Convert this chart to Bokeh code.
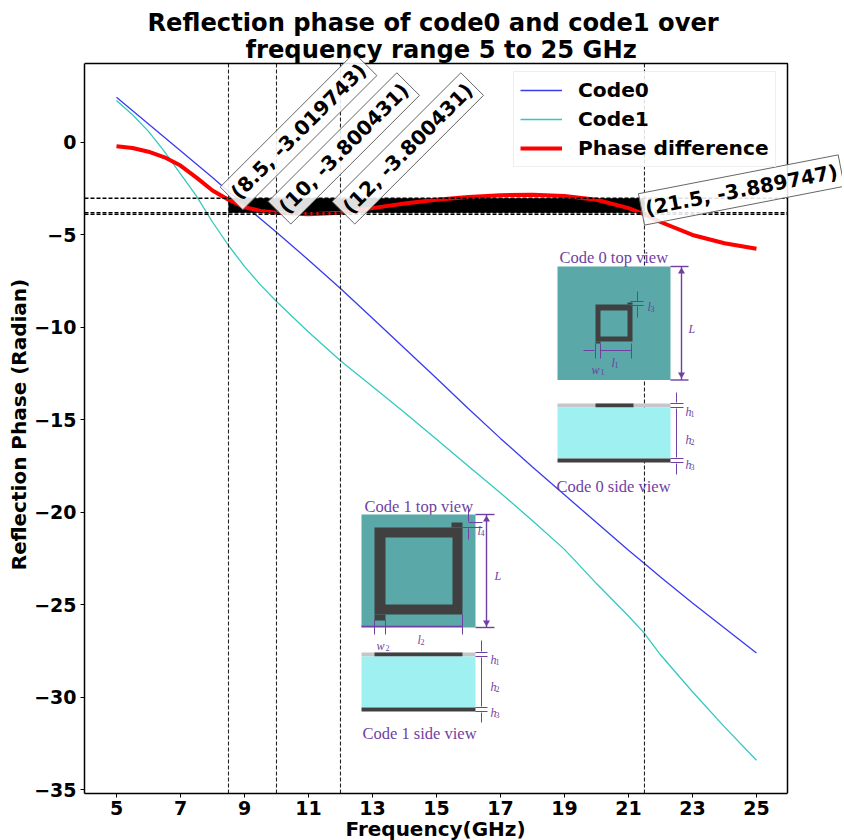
from bokeh.plotting import figure
from bokeh.embed import file_html
from bokeh.resources import INLINE
from bokeh.models import Label, Legend, LegendItem, FixedTicker, Range1d, Title
from bokeh.core.properties import value

# ---------- data ----------
freq0 = [5, 6, 7, 8, 8.5, 9, 10, 11, 12, 13, 14, 15, 16, 17, 18, 19, 20, 21, 21.5, 22, 23, 24, 25]
code0 = [2.45, 1.0, -0.45, -1.9, -2.65, -3.4, -4.86, -6.35, -7.9, -9.5, -11.13, -12.75, -14.4, -16.0,
         -17.55, -19.05, -20.55, -22.05, -22.76, -23.5, -24.9, -26.25, -27.6]
freq1 = [5, 5.5, 6, 6.5, 7, 7.5, 8, 8.5, 9, 9.5, 10, 11, 12, 13, 14, 15, 16, 17, 18, 19, 20, 21, 21.5, 22, 23, 24, 25]
code1 = [2.27, 1.5, 0.6, -0.5, -1.7, -2.9, -4.3, -5.57, -6.7, -7.7, -8.6, -10.25, -11.8, -13.2, -14.6, -16.05,
         -17.5, -18.95, -20.45, -22.0, -23.85, -25.6, -26.54, -27.7, -29.7, -31.6, -33.4]
freq_d = [5, 5.5, 6, 6.5, 7, 7.5, 8, 8.5, 9, 9.5, 10, 11, 12, 13, 14, 15, 16, 17, 18, 19, 20, 21, 21.5, 22, 23, 24, 25]
diff = [-0.2, -0.3, -0.5, -0.8, -1.25, -1.9, -2.6, -3.1, -3.5, -3.7, -3.8, -3.88, -3.8, -3.55, -3.3, -3.1,
        -2.95, -2.85, -2.82, -2.9, -3.1, -3.55, -3.89, -4.3, -5.0, -5.45, -5.75]
marker_x = [8.5, 10, 12, 21.5]
marker_y = [-3.019743, -3.800431, -3.800431, -3.889747]
marker_angle = [45, 45, 45, 11]
marker_text = ["(8.5, -3.019743)", "(10, -3.800431)", "(12, -3.800431)", "(21.5, -3.889747)"]
x_ticks = [5, 7, 9, 11, 13, 15, 17, 19, 21, 23, 25]
y_ticks = [0, -5, -10, -15, -20, -25, -30, -35]
series_names = ["Code0", "Code1", "Phase difference"]
title_lines = ["Reflection phase of code0 and code1 over", "frequency range 5 to 25 GHz"]
x_label = "Frequency(GHz)"
y_label = "Reflection Phase (Radian)"

FONT = "DejaVu Sans"
SERIF = "Liberation Serif"
PURPLE = "#6f3fa3"
TEAL = "#5aa8a8"
DARK = "#404040"
CYAN = "#9ff0f0"
GREY = "#c4c6cc"

X0, X1, Y0, Y1 = 4.0, 25.97, -35.2, 4.27


# page pixels of the axes box -> data values
def dx(px):
    return X0 + (px - 84) * (X1 - X0) / 703


def dy(py):
    return Y1 - (py - 63) * (Y1 - Y0) / 730


# the frame reaches past the drawn axes box so that the call-outs are not cut at its edge
p = figure(frame_width=758, frame_height=738, output_backend="svg", toolbar_location=None,
           x_range=Range1d(X0, dx(842)), y_range=Range1d(Y0, dy(55)),
           min_border_left=0, min_border_right=0, min_border_top=0, min_border_bottom=0,
           y_axis_label=y_label, title=None)
p.background_fill_color = "white"
p.border_fill_color = "white"
p.grid.visible = False
p.outline_line_color = None
p.margin = (1, 0, 0, 4)

offsets = [63, 161]
standoffs = [10, -16]
for line, off, so in reversed(list(zip(title_lines, offsets, standoffs))):
    p.add_layout(Title(text=line, align="left", offset=off, standoff=so, text_font=FONT,
                       text_font_style="bold", text_font_size="24.2px", text_color="black",
                       text_line_height=1.0), "above")
# x label sits under the drawn box (the frame itself runs further right)
p.add_layout(Title(text=x_label, align="left", offset=261, standoff=-6, text_font=FONT,
                   text_font_style="bold", text_font_size="20px", text_color="black",
                   text_line_height=1.0), "below")
# blank strip so that the canvas does not cut the descenders of the x label
p.add_layout(Title(text=" ", standoff=6, text_font_size="1px"), "below")

for ax in (p.xaxis[0], p.yaxis[0]):
    ax.axis_line_color = "black"
    ax.axis_line_width = 1.5
    ax.major_tick_in = 0
    ax.major_tick_out = 4
    ax.minor_tick_line_color = None
    ax.major_tick_line_color = "black"
    ax.major_label_text_font = FONT
    ax.major_label_text_font_style = "bold"
    ax.major_label_text_font_size = "19px"
    ax.major_label_text_color = "black"
    ax.axis_label_text_font = FONT
    ax.axis_label_text_font_style = "bold"
    ax.axis_label_text_font_size = "20px"
    ax.axis_label_text_color = "black"
p.xaxis[0].ticker = FixedTicker(ticks=x_ticks)
p.yaxis[0].ticker = FixedTicker(ticks=y_ticks)
p.xaxis[0].bounds = (X0, X1)
p.yaxis[0].bounds = (Y0, Y1)
p.yaxis[0].major_label_overrides = {t: str(t).replace("-", "\u2212") for t in y_ticks}
p.yaxis[0].major_label_orientation = "horizontal"
p.xaxis[0].major_label_standoff = 3
p.yaxis[0].major_label_standoff = 4
p.yaxis[0].axis_label_standoff = 0

# ---------- curves, band, reference lines ----------
r0 = p.line(freq0, code0, line_color="#3a3aee", line_width=1.3)
r1 = p.line(freq1, code1, line_color="#33c9c2", line_width=1.3)
p.varea(x=[marker_x[0], marker_x[-1]], y1=[marker_y[0]] * 2, y2=[marker_y[1]] * 2, fill_color="black")
r2 = p.line(freq_d, diff, line_color="red", line_width=4)
for yy in (marker_y[0], marker_y[1], marker_y[3]):
    p.line([X0, X1], [yy, yy], line_color="black", line_width=1.4, line_dash="4 2")
for xx in marker_x:
    p.line([xx, xx], [Y0, Y1], line_color="#222222", line_width=1.1, line_dash="4 2")
# top and right edges of the axes box
p.line([X0, X1, X1], [Y1, Y1, Y0], line_color="black", line_width=1.5)


# ---------- inset drawings (placed in page pixels, converted to data) ----------
def box(x0, x1, y0, y1, color):
    p.quad(left=dx(x0), right=dx(x1), top=dy(y0), bottom=dy(y1), fill_color=color, line_color=None)


def seg(x0, y0, x1, y1, w=1.0):
    p.segment(dx(x0), dy(y0), dx(x1), dy(y1), line_color=PURPLE, line_width=w)


def arrow(x, y, kind, size=7):
    p.scatter([dx(x)], [dy(y)], marker=kind, size=size, fill_color=PURPLE, line_color=None)


def txt(x, y, s, size=16.5, style="normal", align="left"):
    p.text([dx(x)], [dy(y)], text=[s], text_font=value(SERIF), text_font_size=f"{size}px",
           text_font_style=style, text_color=PURPLE, text_align=align, text_baseline="alphabetic")


def sym(x, y, letter, sub):
    txt(x, y, letter, 12, "italic")
    txt(x + (9 if letter == "w" else 5 if letter == "h" else 3), y + 2, sub, 8)


# Code 0 top view
txt(559, 257, "Code 0 top view")
box(557, 670, 266, 379.5, TEAL)
box(595, 632, 304, 341, DARK)
box(600, 627, 310, 336, TEAL)
box(627, 632, 302, 304, DARK)
box(595, 600, 341, 343, DARK)
seg(670, 266, 688, 266, 1.4); seg(670, 379.5, 688, 379.5, 1.4); seg(681, 266, 681, 379.5, 1.4)
arrow(681, 271, "triangle"); arrow(681, 374, "inverted_triangle")
txt(688, 328, "L", 12, "italic")
seg(637, 291, 637, 301); seg(637, 306, 637, 317); seg(630, 301, 643, 301); seg(630, 305, 643, 305)
sym(647, 306, "l", "3")
seg(583, 350, 594, 350); seg(600, 350, 631, 350); seg(595, 343, 595, 358); seg(600, 343, 600, 358); seg(631, 343, 631, 358)
sym(591, 369, "w", "1")
sym(611, 362, "l", "1")

# Code 0 side view
box(557, 670, 403, 407, GREY)
box(595, 633, 403, 407, DARK)
box(557, 670, 407, 458, CYAN)
box(557, 670, 458, 462, DARK)
seg(670, 403, 683, 403); seg(670, 407, 683, 407); seg(670, 458, 683, 458); seg(670, 462, 683, 462)
seg(676, 392, 676, 402); seg(676, 408, 676, 457); seg(676, 463, 676, 474)
sym(685, 411, "h", "1"); sym(685, 439, "h", "2"); sym(685, 464, "h", "3")
txt(556, 486, "Code 0 side view")

# Code 1 top view
txt(364, 506, "Code 1 top view")
box(361, 475, 514, 627, TEAL)
box(374, 462, 527, 614, DARK)
box(385, 452, 537, 604, TEAL)
box(451, 462, 522, 527, DARK)
box(374, 385, 614, 620, DARK)
seg(475, 514, 494, 514, 1.4); seg(475, 627, 494, 627, 1.4); seg(486, 514, 486, 627, 1.4)
arrow(486, 519, "triangle"); arrow(486, 622, "inverted_triangle")
txt(494, 575, "L", 12, "italic")
seg(468, 522, 482, 522); seg(462, 527, 482, 527); seg(468, 509, 468, 521); seg(468, 528, 468, 539)
sym(477, 530, "l", "4")
seg(361, 626, 462, 626, 1.4); seg(374, 619, 374, 634); seg(385, 619, 385, 634); seg(462, 614, 462, 634)
sym(376, 645, "w", "2"); sym(417, 639, "l", "2")

# Code 1 side view
box(361, 475, 652, 656, GREY)
box(374, 462, 652, 656, DARK)
box(361, 475, 656, 707, CYAN)
box(361, 475, 707, 711, DARK)
seg(475, 652, 487, 652); seg(475, 656, 487, 656); seg(475, 707, 487, 707); seg(475, 711, 487, 711)
seg(481, 640, 481, 651); seg(481, 657, 481, 706); seg(481, 712, 481, 722)
sym(490, 659, "h", "1"); sym(490, 686, "h", "2"); sym(490, 712, "h", "3")
txt(362, 733, "Code 1 side view")

# ---------- rotated call-outs ----------
label_dx = [3, 3, 3, -3]
label_dy = [0, 0, 0, 5]
for xv, yv, ang, s, ox, oy in zip(marker_x, marker_y, marker_angle, marker_text, label_dx, label_dy):
    p.add_layout(Label(x=xv, y=yv, text=s, angle=ang, angle_units="deg", level="overlay",
                       x_offset=ox, y_offset=oy,
                       text_font=FONT, text_font_style="bold", text_font_size="20px", text_color="black",
                       text_align="left", text_baseline="middle",
                       background_fill_color="white", background_fill_alpha=0.87,
                       border_line_color="#666666", border_line_width=1, padding=4))

legend = Legend(items=[LegendItem(label=series_names[0], renderers=[r0]),
                       LegendItem(label=series_names[1], renderers=[r1]),
                       LegendItem(label=series_names[2], renderers=[r2])],
                location=(429, 626), margin=0, padding=6, spacing=5,
                glyph_width=42, glyph_height=22, label_height=22, label_standoff=16,
                label_text_font=FONT, label_text_font_style="bold", label_text_font_size="20.2px",
                label_text_color="black",
                border_line_color="#dddddd", border_line_width=1.2, background_fill_alpha=0.85)
p.add_layout(legend)

open("out.html", "w").write(file_html(p, INLINE))
